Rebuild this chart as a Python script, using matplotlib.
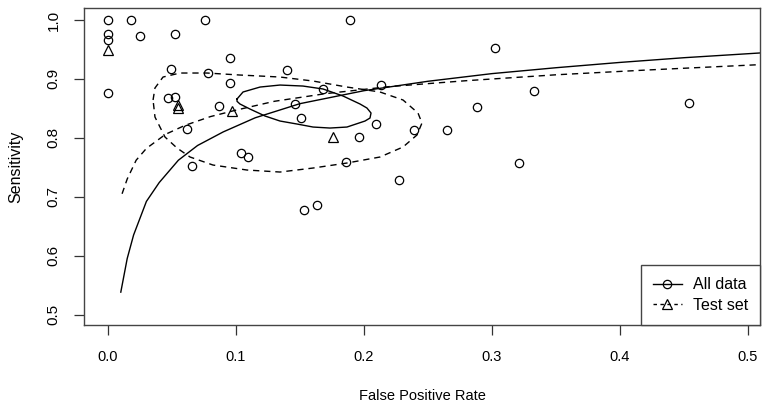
import matplotlib
matplotlib.use("Agg")
import matplotlib.pyplot as plt
from matplotlib.lines import Line2D
from matplotlib.font_manager import findfont, FontProperties

# ---- data: individual studies ("All data") ----
fpr_all = [0.000, 0.018, 0.076, 0.189, 0.000, 0.000, 0.025, 0.052, 0.302, 0.095,
           0.049, 0.078, 0.140, 0.000, 0.095, 0.168, 0.213, 0.333, 0.047, 0.052,
           0.087, 0.146, 0.151, 0.288, 0.454, 0.209, 0.062, 0.196, 0.239, 0.265,
           0.104, 0.109, 0.066, 0.186, 0.321, 0.227, 0.153, 0.163]
sens_all = [1.000, 1.000, 1.000, 1.000, 0.976, 0.966, 0.973, 0.976, 0.952, 0.935,
            0.917, 0.910, 0.915, 0.876, 0.893, 0.883, 0.890, 0.879, 0.867, 0.869,
            0.854, 0.857, 0.834, 0.853, 0.859, 0.823, 0.815, 0.801, 0.813, 0.813,
            0.774, 0.767, 0.752, 0.759, 0.757, 0.728, 0.677, 0.686]

# ---- data: test set studies ----
fpr_test = [0.000, 0.055, 0.055, 0.097, 0.176]
sens_test = [0.949, 0.856, 0.851, 0.845, 0.801]

# ---- SROC curves ----
sroc_all_fpr = [0.010, 0.015, 0.020, 0.030, 0.040, 0.055, 0.070, 0.090, 0.115,
                0.150, 0.200, 0.250, 0.300, 0.350, 0.400, 0.450, 0.509]
sroc_all_sens = [0.538, 0.595, 0.635, 0.692, 0.724, 0.762, 0.787, 0.810, 0.834,
                 0.858, 0.880, 0.896, 0.909, 0.919, 0.928, 0.936, 0.944]

sroc_test_fpr = [0.011, 0.015, 0.022, 0.030, 0.045, 0.060, 0.080, 0.100, 0.130,
                 0.170, 0.220, 0.280, 0.350, 0.420, 0.507]
sroc_test_sens = [0.705, 0.730, 0.762, 0.782, 0.806, 0.821, 0.836, 0.847, 0.862,
                  0.875, 0.887, 0.897, 0.907, 0.915, 0.924]

# ---- confidence regions (outline) ----
ell_all_fpr = [0.1008, 0.1055, 0.1188, 0.1344, 0.1523, 0.1680, 0.1836, 0.1969, 0.2023,
               0.2055, 0.2047, 0.2008, 0.1867, 0.1734, 0.1602, 0.1477, 0.1344, 0.1227,
               0.1109, 0.1031, 0.1008]
ell_all_sens = [0.8659, 0.8778, 0.8862, 0.8896, 0.8879, 0.8829, 0.8710, 0.8574, 0.8506,
                0.8421, 0.8336, 0.8285, 0.8183, 0.8166, 0.8183, 0.8234, 0.8285, 0.8370,
                0.8489, 0.8574, 0.8620]

ell_test_fpr = [0.0352, 0.0367, 0.0430, 0.0563, 0.0773, 0.1031, 0.1344, 0.1602, 0.1867,
                0.2125, 0.2305, 0.2422, 0.2453, 0.2414, 0.2305, 0.2125, 0.1867, 0.1602,
                0.1344, 0.1086, 0.0820, 0.0641, 0.0539, 0.0445, 0.0367]
ell_test_sens = [0.8642, 0.8846, 0.9032, 0.9100, 0.9100, 0.9066, 0.9032, 0.8964, 0.8862,
                 0.8778, 0.8642, 0.8421, 0.8251, 0.8048, 0.7844, 0.7674, 0.7572, 0.7487,
                 0.7419, 0.7453, 0.7538, 0.7674, 0.7827, 0.8014, 0.8353]

x_ticks = [0.0, 0.1, 0.2, 0.3, 0.4, 0.5]
y_ticks = [0.5, 0.6, 0.7, 0.8, 0.9, 1.0]
labels = ["All data", "Test set"]

REG = ["Liberation Sans", "DejaVu Sans"]
try:
    p = findfont(FontProperties(family="Liberation Sans Narrow"), fallback_to_default=False)
    has_narrow = "narrow" in p.lower()
except Exception:
    has_narrow = False
if has_narrow:
    NARROW, nsize = ["Liberation Sans Narrow", "Liberation Sans"], 11
else:
    NARROW, nsize = REG, 10.5

fig = plt.figure(figsize=(7.7, 4.12), dpi=100)
ax = fig.add_axes([84/770, 1-325/412, (760-84)/770, (325-8)/412])

dash = (0, (4.5, 3.5))
lw = 1.0

ax.plot(sroc_all_fpr, sroc_all_sens, color="black", lw=lw)
ax.plot(sroc_test_fpr, sroc_test_sens, color="black", lw=lw, linestyle=dash)
ax.plot(ell_all_fpr + ell_all_fpr[:1], ell_all_sens + ell_all_sens[:1], color="black", lw=lw)
ax.plot(ell_test_fpr + ell_test_fpr[:1], ell_test_sens + ell_test_sens[:1], color="black",
        lw=lw, linestyle=dash)

ax.plot(fpr_all, sens_all, linestyle="none", marker="o", markersize=6,
        markerfacecolor="none", markeredgecolor="black", markeredgewidth=0.9)
ax.plot(fpr_test, sens_test, linestyle="none", marker="^", markersize=7.5,
        markerfacecolor="none", markeredgecolor="black", markeredgewidth=0.9)

ax.set_xlim(-0.01875, 0.5094)
ax.set_ylim(0.4822, 1.0204)
ax.set_xticks(x_ticks)
ax.set_yticks(y_ticks)
ax.set_xticklabels([f"{v:.1f}" for v in x_ticks], fontfamily=NARROW, fontsize=nsize)
ax.set_yticklabels([f"{v:.1f}" for v in y_ticks], fontfamily=REG, fontsize=11,
                   rotation=90, va="center")
ax.tick_params(axis="x", length=7, width=0.9, pad=11, color="#333333")
ax.tick_params(axis="y", length=7, width=0.9, pad=10, color="#333333")
for s in ax.spines.values():
    s.set_color("#444444")
    s.set_linewidth(1.0)

ax.set_xlabel("False Positive Rate", fontfamily=NARROW, fontsize=nsize, labelpad=18)
ax.set_ylabel("Sensitivity", fontfamily=REG, fontsize=11.5, labelpad=17)

handles = [Line2D([], [], color="black", lw=lw, marker="o", markersize=6,
                  markerfacecolor="none", markeredgewidth=0.9),
           Line2D([], [], color="black", lw=lw, linestyle=(0, (2.5, 2.5)), marker="^",
                  markersize=6.5, markerfacecolor="none", markeredgewidth=0.9)]
leg = ax.legend(handles, labels, loc="lower right", bbox_to_anchor=(1.0, 0.0),
                borderaxespad=0, fancybox=False, frameon=True, edgecolor="#444444",
                framealpha=1, prop={"family": REG, "size": 11.5}, handlelength=1.8,
                handletextpad=0.7, labelspacing=0.35, borderpad=0.75)
leg.get_frame().set_linewidth(1.0)

fig.savefig("out.png", dpi=100)
